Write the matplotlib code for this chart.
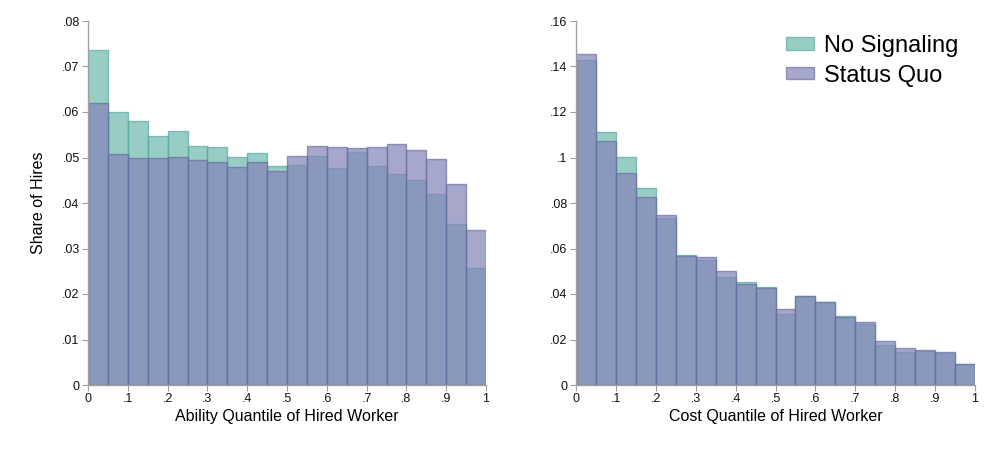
import matplotlib
matplotlib.use("Agg")
import matplotlib.pyplot as plt
import numpy as np

plt.rcParams['font.family'] = ['Liberation Sans', 'DejaVu Sans']

# bin edges (20 bins of width .05)
bin_lefts = [i * 0.05 for i in range(20)]

# left panel: ability quantile
ability_no_signal = [0.0736, 0.0601, 0.0580, 0.0547, 0.0558, 0.0526, 0.0524, 0.0501, 0.0510, 0.0482,
                     0.0484, 0.0503, 0.0476, 0.0513, 0.0482, 0.0464, 0.0450, 0.0420, 0.0354, 0.0257]
ability_status_quo = [0.0619, 0.0507, 0.0500, 0.0499, 0.0502, 0.0494, 0.0490, 0.0479, 0.0490, 0.0470,
                      0.0503, 0.0525, 0.0524, 0.0520, 0.0523, 0.0529, 0.0516, 0.0496, 0.0442, 0.0340]

# right panel: cost quantile
cost_no_signal = [0.1429, 0.1111, 0.1002, 0.0866, 0.0735, 0.0570, 0.0549, 0.0476, 0.0453, 0.0429,
                  0.0312, 0.0390, 0.0363, 0.0303, 0.0267, 0.0177, 0.0146, 0.0151, 0.0139, 0.0092]
cost_status_quo = [0.1454, 0.1073, 0.0933, 0.0826, 0.0747, 0.0567, 0.0564, 0.0502, 0.0445, 0.0426,
                   0.0333, 0.0393, 0.0365, 0.0300, 0.0276, 0.0192, 0.0161, 0.0154, 0.0144, 0.0092]

x_ticks = [0, .1, .2, .3, .4, .5, .6, .7, .8, .9, 1]
x_tick_labels = ['0', '.1', '.2', '.3', '.4', '.5', '.6', '.7', '.8', '.9', '1']
left_yticks = [0, .01, .02, .03, .04, .05, .06, .07, .08]
left_ylabels = ['0', '.01', '.02', '.03', '.04', '.05', '.06', '.07', '.08']
right_yticks = [0, .02, .04, .06, .08, .1, .12, .14, .16]
right_ylabels = ['0', '.02', '.04', '.06', '.08', '.1', '.12', '.14', '.16']

green_face = (112/255, 186/255, 176/255, 0.72)
green_edge = (80/255, 165/255, 155/255, 0.65)
purple_face = (133/255, 134/255, 184/255, 0.72)
purple_edge = (100/255, 105/255, 160/255, 0.65)
axis_gray = '#a0a0a0'

fig = plt.figure(figsize=(9.97, 4.57), dpi=100)
ax1 = fig.add_axes([88/997, 72/457, 398/997, 364/457])
ax2 = fig.add_axes([576/997, 72/457, 399/997, 364/457])


def draw_panel(ax, ns, sq, yticks, ylabels, xlabel):
    ax.bar(bin_lefts, ns, width=0.05, align='edge', color=green_face,
           edgecolor=green_edge, linewidth=1.0, label='No Signaling')
    ax.bar(bin_lefts, sq, width=0.05, align='edge', color=purple_face,
           edgecolor=purple_edge, linewidth=1.0, label='Status Quo')
    ax.set_xlim(0, 1)
    ax.set_ylim(0, yticks[-1])
    ax.set_xticks(x_ticks)
    ax.set_xticklabels(x_tick_labels)
    ax.set_yticks(yticks)
    ax.set_yticklabels(ylabels)
    ax.spines['top'].set_visible(False)
    ax.spines['right'].set_visible(False)
    for s in ['left', 'bottom']:
        ax.spines[s].set_color(axis_gray)
        ax.spines[s].set_linewidth(1.0)
    ax.tick_params(axis='both', colors=axis_gray, labelcolor='#111111',
                   labelsize=9, length=4, width=0.8, pad=2)
    ax.set_xlabel(xlabel, fontsize=11.5, labelpad=3)


draw_panel(ax1, ability_no_signal, ability_status_quo, left_yticks, left_ylabels,
           'Ability Quantile of Hired Worker')
ax1.set_ylabel('Share of Hires', fontsize=11.5, labelpad=12)

draw_panel(ax2, cost_no_signal, cost_status_quo, right_yticks, right_ylabels,
           'Cost Quantile of Hired Worker')
ax2.legend(loc='upper right', bbox_to_anchor=(1.012, 1.02), frameon=False, fontsize=17,
           handlelength=1.15, handleheight=0.42, handletextpad=0.45, labelspacing=0.32)

fig.savefig('out.png', dpi=100)
